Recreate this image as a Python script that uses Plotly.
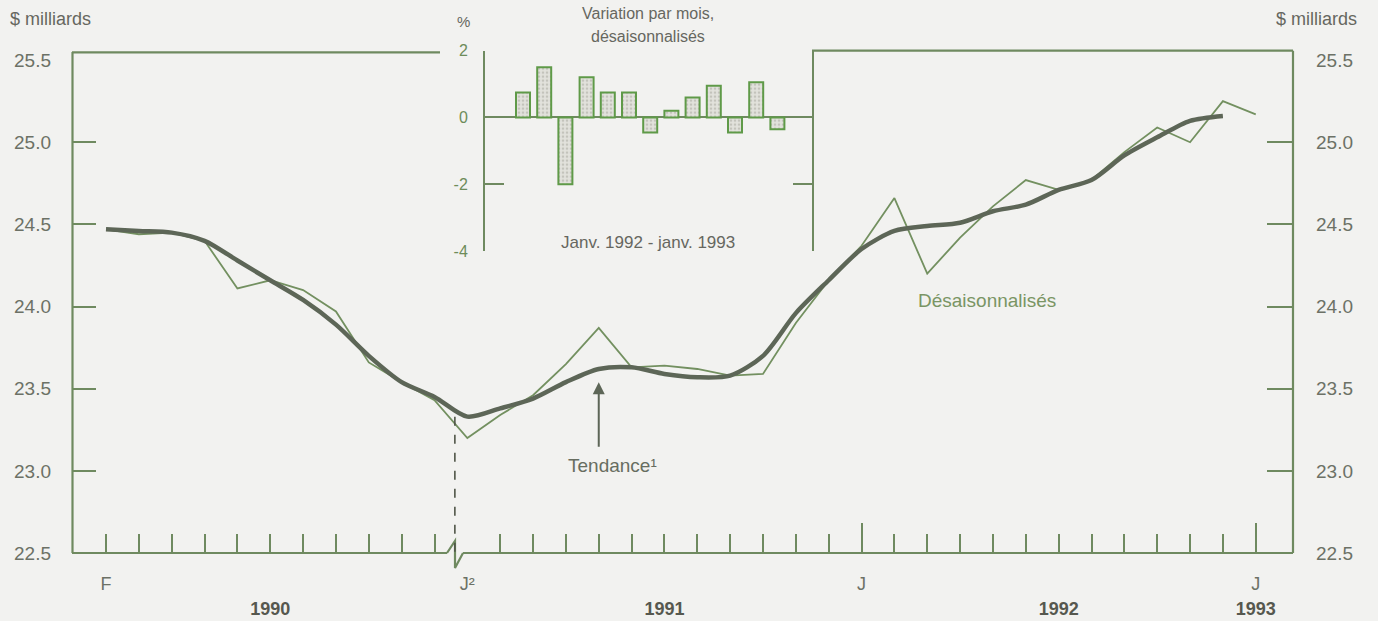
import plotly.graph_objects as go

# ---------------- data ----------------
# month index: 0 = févr. 1990 ... 35 = janv. 1993
month_index = list(range(36))
desaisonnalises = [24.47, 24.44, 24.45, 24.40, 24.11, 24.16, 24.10, 23.97, 23.66, 23.54,
                   23.43, 23.20, 23.34, 23.46, 23.65, 23.87, 23.63, 23.64, 23.62, 23.58,
                   23.59, 23.90, 24.16, 24.37, 24.66, 24.20, 24.42, 24.61, 24.77, 24.71,
                   24.77, 24.94, 25.09, 25.00, 25.25, 25.17]
tendance = [24.47, 24.46, 24.45, 24.40, 24.28, 24.16, 24.04, 23.89, 23.70, 23.54,
            23.45, 23.33, 23.38, 23.44, 23.54, 23.62, 23.63, 23.59, 23.57, 23.58,
            23.70, 23.96, 24.16, 24.35, 24.46, 24.49, 24.51, 24.58, 24.62, 24.71,
            24.77, 24.92, 25.03, 25.13, 25.16]

y_tick_vals = [22.5, 23.0, 23.5, 24.0, 24.5, 25.0, 25.5]
y_tick_text = ["22.5", "23.0", "23.5", "24.0", "24.5", "25.0", "25.5"]
y_inner_ticks = [23.0, 23.5, 24.0, 24.5, 25.0]

month_label_idx = [0, 11, 23, 35]
month_label_text = ["F", "J²", "J", "J"]
year_label_idx = [5, 17, 29, 35]
year_label_text = ["1990", "1991", "1992", "1993"]
long_tick_idx = [23, 35]
short_tick_idx = [i for i in month_index if i != 11]

# inset: monthly change, seasonally adjusted (%), Jan 1992 - Jan 1993
bar_months = ["janv. 1992", "févr.", "mars", "avr.", "mai", "juin", "juil.", "août",
              "sept.", "oct.", "nov.", "déc.", "janv. 1993"]
bar_values = [0.75, 1.5, -2.0, 1.2, 0.75, 0.75, -0.45, 0.2, 0.6, 0.95, -0.45, 1.05, -0.35]
inset_tick_vals = [-4, -2, 0, 2]
inset_tick_text = ["-4", "-2", "0", "2"]

# ---------------- geometry ----------------
W, H = 1378, 621
L, R, T, B = 72, 85, 46, 68
PW, PH = W - L - R, H - T - B
FONT = "Liberation Sans, Arial, sans-serif"
FRAME = "#6f8a60"
TXT = "#6c7166"
BG = "#f2f2f0"

X_RANGE = [(72 - 106) / 32.85, (1293 - 106) / 32.85]
Y_RANGE = [22.5, 22.5 + PH / 164.3]
BREAK_X = 10.62


def px(x):
    return (x - L) / PW


def py(y):
    return (H - B - y) / PH


fig = go.Figure()

# main series
fig.add_trace(go.Scatter(x=month_index, y=desaisonnalises, mode="lines",
                         line=dict(color="#739060", width=1.8), name="Désaisonnalisés",
                         showlegend=False))
fig.add_trace(go.Scatter(x=month_index[:len(tendance)], y=tendance, mode="lines",
                         line=dict(color="#5d6657", width=4.5, shape="spline", smoothing=0.8),
                         name="Tendance", showlegend=False))

# inset bars
fig.add_trace(go.Bar(x=list(range(len(bar_values))), y=bar_values, customdata=bar_months,
                     xaxis="x3", yaxis="y3", width=0.66, showlegend=False,
                     marker=dict(color="#dcdcd5",
                                 line=dict(color="#5f9a48", width=2),
                                 pattern=dict(shape=".", fgcolor="#a4a49a", bgcolor="#e2e2dc",
                                              size=4, solidity=0.35))))

# empty helper traces so overlay axes are drawn
for xa, ya in [("x2", "y"), ("x4", "y"), ("x5", "y"), ("x", "y2"), ("x", "y4"), ("x", "y5")]:
    fig.add_trace(go.Scatter(x=[None], y=[None], xaxis=xa, yaxis=ya, showlegend=False,
                             hoverinfo="skip", mode="lines"))

common_x = dict(range=X_RANGE, showgrid=False, zeroline=False, showline=False,
                fixedrange=True, automargin=False)
common_y = dict(range=Y_RANGE, showgrid=False, zeroline=False, showline=False,
                fixedrange=True, automargin=False)

fig.update_layout(
    width=W, height=H, autosize=False,
    margin=dict(l=L, r=R, t=T, b=B, pad=0, autoexpand=False),
    paper_bgcolor=BG, plot_bgcolor=BG,
    font=dict(family=FONT, color=TXT, size=18),
    showlegend=False,
    bargap=0.3,
    xaxis=dict(**common_x, tickvals=short_tick_idx, ticks="inside", ticklen=19,
               tickwidth=2, tickcolor=FRAME, showticklabels=False),
    xaxis2=dict(**common_x, overlaying="x", anchor="y", tickvals=long_tick_idx, ticks="inside",
                ticklen=30, tickwidth=2, tickcolor=FRAME, showticklabels=False),
    xaxis4=dict(**common_x, overlaying="x", anchor="y", tickvals=month_label_idx,
                ticktext=month_label_text, ticks="", ticklabelstandoff=18,
                tickfont=dict(size=18, color=TXT)),
    xaxis5=dict(**common_x, overlaying="x", anchor="y", tickvals=year_label_idx,
                ticktext=year_label_text, ticks="", ticklabelstandoff=43,
                tickfont=dict(size=18, color="#56584f", family=FONT, weight="bold")),
    yaxis=dict(**common_y, tickvals=y_tick_vals, ticktext=y_tick_text, ticks="",
               ticklabelstandoff=20, tickfont=dict(size=19, color=TXT)),
    yaxis2=dict(**common_y, overlaying="y", side="right", anchor="x", tickvals=y_tick_vals,
                ticktext=y_tick_text, ticks="", ticklabelstandoff=22,
                tickfont=dict(size=19, color=TXT)),
    yaxis4=dict(**common_y, overlaying="y", side="left", anchor="x", tickvals=y_inner_ticks,
                ticks="inside", ticklen=24, tickwidth=2, tickcolor=FRAME, showticklabels=False),
    yaxis5=dict(**common_y, overlaying="y", side="right", anchor="x", tickvals=y_inner_ticks,
                ticks="inside", ticklen=26, tickwidth=2, tickcolor=FRAME, showticklabels=False),
    xaxis3=dict(domain=[px(485), px(812)], anchor="y3",
                range=[(485 - 523) / 21.2, (812 - 523) / 21.2],
                showgrid=False, zeroline=False, showline=False, showticklabels=False,
                ticks="", fixedrange=True, automargin=False),
    yaxis3=dict(domain=[py(251.2), py(50.6)], anchor="x3", range=[-4, 2],
                tickvals=inset_tick_vals, ticktext=inset_tick_text,
                showgrid=False, zeroline=True, zerolinecolor=FRAME, zerolinewidth=2,
                showline=True, linecolor=FRAME, linewidth=2, mirror="ticks",
                ticks="inside", ticklen=19, tickwidth=2, tickcolor=FRAME,
                ticklabelstandoff=12, tickfont=dict(size=16, color="#6d8c5a"),
                fixedrange=True, automargin=False),
)

# ---------------- frame shapes ----------------
def seg(x0, y0, x1, y1, color=FRAME, width=2.2, dash=None):
    fig.add_shape(type="line", xref="paper", yref="paper",
                  x0=px(x0), y0=py(y0), x1=px(x1), y1=py(y1),
                  line=dict(color=color, width=width, dash=dash), layer="above")


seg(72.5, 52, 72.5, 553)          # left axis
seg(72, 52.3, 440, 52.3)          # top-left frame
seg(812, 50.7, 1293, 50.7)        # top-right frame
seg(1293, 50.7, 1293, 553)        # right axis
seg(72, 553, 447, 553)            # bottom axis, left of break
seg(463, 553, 1293, 553)          # bottom axis, right of break
fig.add_shape(type="path", xref="paper", yref="paper",
              path=f"M {px(447)},{py(553)} L {px(455)},{py(541)} L {px(455)},{py(568)} L {px(463)},{py(553)}",
              line=dict(color=FRAME, width=2.2), layer="above")

# series break (dashed line)
fig.add_shape(type="line", xref="x", yref="y", x0=BREAK_X, x1=BREAK_X,
              y0=tendance[11], y1=Y_RANGE[0],
              line=dict(color="#4f5548", width=1.6, dash="dash"), layer="above")

# ---------------- annotations ----------------
def text(x, y, s, size=18, color=TXT, xanchor="center", yanchor="middle", **kw):
    fig.add_annotation(xref="paper", yref="paper", x=px(x), y=py(y), text=s,
                       showarrow=False, xanchor=xanchor, yanchor=yanchor,
                       font=dict(family=FONT, size=size, color=color), **kw)


text(8, 19, "$ milliards", size=18, color="#66675f", xanchor="left")
text(1359, 19, "$ milliards", size=18, color="#66675f", xanchor="right")
text(463, 22, "%", size=15, color="#66675f")
text(648, 14, "Variation par mois,", size=16, color="#66675f")
text(648, 37, "désaisonnalisés", size=16, color="#66675f")
text(648, 242, "Janv. 1992 - janv. 1993", size=17, color="#66675f")
text(987, 300, "Désaisonnalisés", size=19, color="#7a9564")
text(612, 465, "Tendance¹", size=19, color="#676d60")

# arrow pointing at the trend line
fig.add_annotation(xref="x", yref="y", x=15, y=tendance[15] - 0.08, ax=0, ay=66,
                   axref="pixel", ayref="pixel", text="", showarrow=True,
                   arrowhead=2, arrowsize=1.2, arrowwidth=2, arrowcolor="#5d6657")

fig.write_html("out.html", config={"displayModeBar": False, "responsive": False},
               post_script="document.body.style.margin='0';document.body.style.background='" + BG + "';")
